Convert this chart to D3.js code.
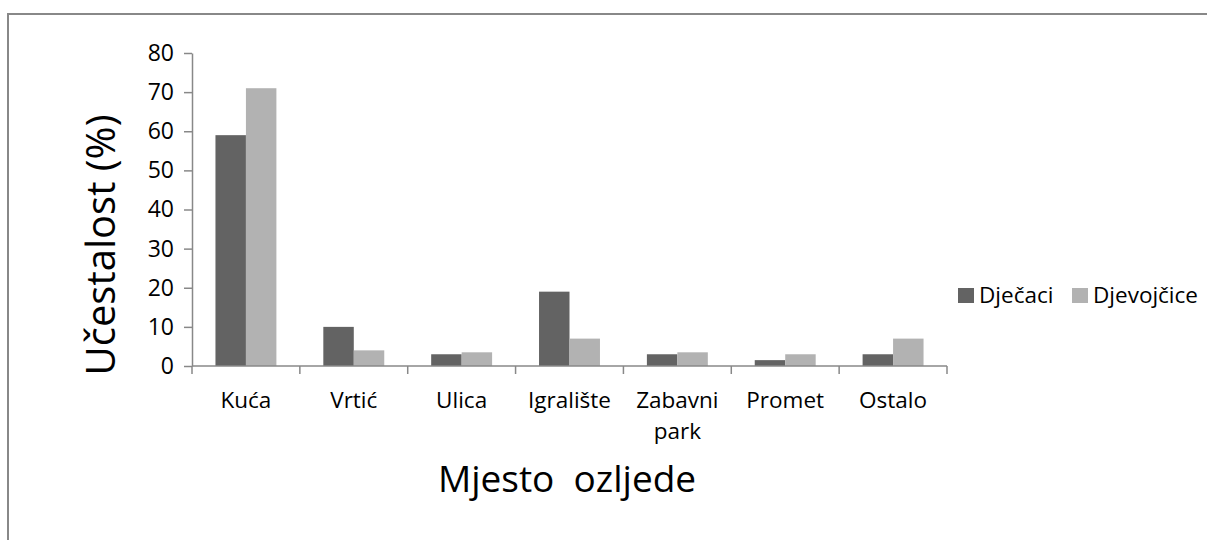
<!DOCTYPE html>
<html>
<head>
<meta charset="utf-8">
<script src="https://cdn.jsdelivr.net/npm/d3@7"></script>
<style>
  body { margin: 0; background: #fff; }
  text { font-family: "Open Sans", sans-serif; fill: #000; }
</style>
</head>
<body>
<div id="chart"></div>
<script>
//---- data ----//
var categories = ["Kuća", "Vrtić", "Ulica", "Igralište", "Zabavni park", "Promet", "Ostalo"];
var seriesNames = ["Dječaci", "Djevojčice"];
var boys  = [59, 10, 3, 19, 3, 1.5, 3];
var girls = [71, 4, 3.5, 7, 3.5, 3, 7];
var yTicks = [0, 10, 20, 30, 40, 50, 60, 70, 80];
var colors = ["#636363", "#b2b2b2"];
//----------------------------------//

var width = 1207, height = 540;

var svg = d3.select('#chart').append('svg')
            .attr('width', width)
            .attr('height', height);

// outer frame (cut by the window on the right and bottom)
svg.append('rect')
   .attr('x', 8).attr('y', 14)
   .attr('width', 1300).attr('height', 600)
   .attr('fill', 'none')
   .attr('stroke', '#888')
   .attr('stroke-width', 2);

//--------------scales---------------//
var x0 = d3.scaleBand().domain(categories).range([192, 947]).paddingInner(0).paddingOuter(0);
var x1 = d3.scaleBand().domain(seriesNames).range([0, x0.bandwidth()]).paddingInner(0).paddingOuter(0.77);
var y  = d3.scaleLinear().domain([0, 80]).range([366, 53]);
//-----------------------------------//

var rows = categories.map(function(c, i){
  return {cat: c, values: [boys[i], girls[i]]};
});

// bars
var groups = svg.append('g').selectAll('g')
   .data(rows).enter().append('g')
   .attr('transform', function(d){ return 'translate(' + x0(d.cat) + ',0)'; });

groups.selectAll('rect')
   .data(function(d){ return d.values.map(function(v, j){ return {s: seriesNames[j], v: v, j: j}; }); })
   .enter().append('rect')
   .attr('x', function(d){ return x1(d.s); })
   .attr('width', x1.bandwidth())
   .attr('y', function(d){ return y(d.v); })
   .attr('height', function(d){ return y(0) - y(d.v); })
   .attr('fill', function(d){ return colors[d.j]; });

// y axis
var yAxis = svg.append('g')
   .attr('transform', 'translate(192,0)')
   .call(d3.axisLeft(y).tickValues(yTicks).tickSize(8).tickSizeOuter(0).tickPadding(10));
yAxis.selectAll('text').style('font-size', '23px').style('font-family', '"Open Sans", sans-serif').attr('fill', '#000');

// x axis line + boundary ticks
var xAxis = svg.append('g').attr('transform', 'translate(0,' + y(0) + ')');
xAxis.append('line')
   .attr('x1', x0.range()[0]).attr('x2', x0.range()[1])
   .attr('y1', 0).attr('y2', 0);
var bounds = categories.map(function(c){ return x0(c); }).concat([x0.range()[1]]);
xAxis.selectAll('.bt').data(bounds).enter().append('line')
   .attr('class', 'bt')
   .attr('x1', function(d){ return d; }).attr('x2', function(d){ return d; })
   .attr('y1', 0).attr('y2', 8);

svg.selectAll('.domain, .tick line').attr('stroke', '#888').attr('stroke-width', 1.5);
xAxis.selectAll('line').attr('stroke', '#888').attr('stroke-width', 1.5);

// category labels (wrapped if wider than the band)
var labels = xAxis.selectAll('.cl').data(categories).enter().append('text')
   .attr('class', 'cl')
   .attr('x', function(d){ return x0(d) + x0.bandwidth() / 2; })
   .attr('y', 42)
   .attr('text-anchor', 'middle')
   .style('font-size', '22.5px');

labels.each(function(d){
  var t = d3.select(this);
  t.text(d);
  if (this.getComputedTextLength() > x0.bandwidth() - 4) {
    var words = d.split(' ');
    t.text(null);
    words.forEach(function(w, i){
      t.append('tspan')
       .attr('x', x0(d) + x0.bandwidth() / 2)
       .attr('dy', i === 0 ? 0 : 31)
       .text(w);
    });
  }
});

// axis titles
svg.append('text')
   .attr('transform', 'translate(115,245) rotate(-90)')
   .attr('text-anchor', 'middle')
   .style('font-size', '40px')
   .text('Učestalost (%)');

svg.append('text')
   .attr('x', 567).attr('y', 492)
   .attr('text-anchor', 'middle')
   .style('font-size', '37px')
   .style('white-space', 'pre')
   .text('Mjesto  ozljede');

// legend
var legend = svg.append('g').attr('transform', 'translate(958,288)');
var item = legend.selectAll('g').data(seriesNames).enter().append('g')
   .attr('transform', function(d, i){ return 'translate(' + (i * 114) + ',0)'; });
item.append('rect')
   .attr('width', 16).attr('height', 15)
   .attr('fill', function(d, i){ return colors[i]; });
item.append('text')
   .attr('x', 21).attr('y', 15)
   .style('font-size', '22.5px')
   .text(function(d){ return d; });
</script>
</body>
</html>
